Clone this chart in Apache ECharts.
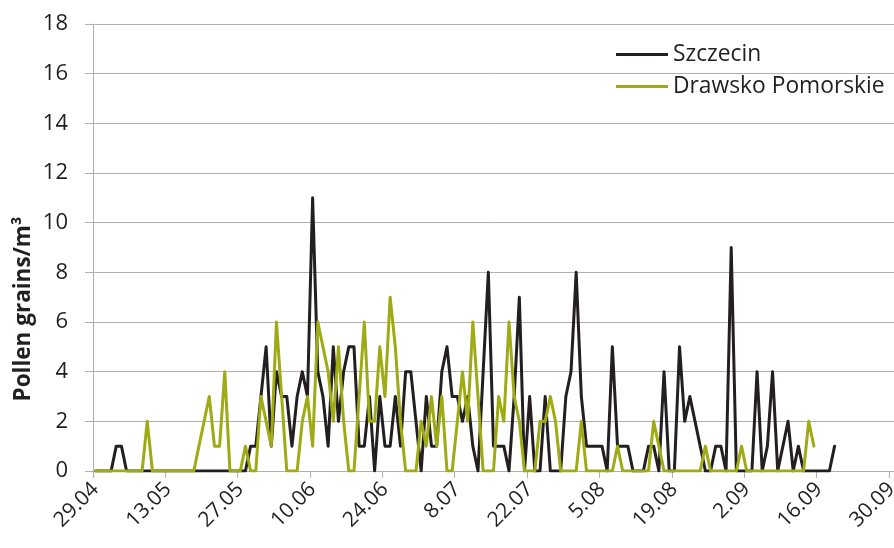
<!DOCTYPE html>
<html>
<head>
<meta charset="utf-8">
<script src="https://cdn.jsdelivr.net/npm/echarts@6/dist/echarts.min.js"></script>
<style>
html,body{margin:0;padding:0;background:#fff;}
#chart{width:894px;height:548px;}
</style>
</head>
<body>
<div id="chart"></div>
<script>
// Daily series, first value = 29.04
const seriesNames = ['Szczecin', 'Drawsko Pomorskie'];
const startDay = 29, startMonth = 4, dayCount = 155; // 29.04 .. 30.09
const szczecin = [
  0,0,0,0,1,1,0,0,0,0,
  0,0,0,0,0,0,0,0,0,0,
  0,0,0,0,0,0,0,0,0,0,
  1,1,3,5,1,4,3,3,1,3,
  4,3,11,4,3,1,5,2,4,5,
  5,1,1,3,0,3,1,1,3,1,
  4,4,2,0,3,1,1,4,5,3,
  3,2,3,1,0,4,8,1,1,1,
  0,3,7,0,3,0,0,3,0,0,
  0,3,4,8,3,1,1,1,1,0,
  5,1,1,1,0,0,0,1,1,0,
  4,0,0,5,2,3,2,1,0,0,
  1,1,0,9,0,0,0,0,4,0,
  1,4,0,1,2,0,1,0,0,0,
  0,0,0,1
];
const drawsko = [
  0,0,0,0,0,0,0,0,0,0,
  2,0,0,0,0,0,0,0,0,0,
  1,2,3,1,1,4,0,0,0,1,
  0,0,3,2,1,6,3,0,0,0,
  2,3,1,6,5,4,2,5,2,0,
  0,3,6,2,2,5,3,7,5,2,
  0,0,0,2,1,3,1,3,0,0,
  2,4,2,6,3,0,0,0,3,2,
  6,3,2,0,0,0,2,2,3,2,
  0,0,0,0,2,0,0,0,0,0,
  0,1,0,0,0,0,0,0,2,1,
  0,0,0,0,0,0,0,0,1,0,
  0,0,0,0,0,1,0,0,0,0,
  0,0,0,0,0,0,0,0,2,1
];
const yTicks = [0, 2, 4, 6, 8, 10, 12, 14, 16, 18];
const yTitle = 'Pollen grains/m³';

const categories = [];
for (let i = 0; i < dayCount; i++) {
  const d = new Date(2021, startMonth - 1, startDay + i);
  categories.push(d.getDate() + '.' + String(d.getMonth() + 1).padStart(2, '0'));
}

const FONT = '"Open Sans", "Noto Sans", sans-serif';
const TXT = '#231f20';
const GRID = '#b0b0b0';

const chart = echarts.init(document.getElementById('chart'), null, {renderer: 'canvas'});
chart.setOption({
  animation: false,
  backgroundColor: '#ffffff',
  textStyle: {fontFamily: FONT},
  grid: {left: 93, right: 0, top: 24, bottom: 77, containLabel: false, outerBoundsMode: 'none'},
  legend: {
    orient: 'vertical',
    left: 611,
    top: 38,
    itemGap: 9,
    itemWidth: 52,
    itemHeight: 3,
    icon: 'rect',
    textStyle: {fontFamily: FONT, fontSize: 22.8, color: TXT},
    data: seriesNames
  },
  graphic: [{
    type: 'text',
    x: 24,
    y: 309,
    rotation: Math.PI / 2,
    style: {
      text: yTitle,
      font: 'bold 22.5px ' + FONT,
      fill: TXT,
      align: 'center',
      verticalAlign: 'middle'
    }
  }],
  xAxis: {
    type: 'category',
    data: categories,
    boundaryGap: true,
    axisLine: {lineStyle: {color: GRID, width: 1}},
    axisTick: {show: true, interval: 13, length: 7, lineStyle: {color: GRID}},
    axisLabel: {
      interval: 13,
      rotate: 45,
      margin: 15,
      padding: [8, 0, 0, 0],
      fontSize: 21,
      fontFamily: FONT,
      color: TXT,
      showMaxLabel: true,
      hideOverlap: false
    },
    splitLine: {show: false}
  },
  yAxis: {
    type: 'value',
    min: yTicks[0],
    max: yTicks[yTicks.length - 1],
    interval: 2,
    axisLine: {show: true, lineStyle: {color: GRID, width: 1}},
    axisTick: {show: true, length: 8, lineStyle: {color: GRID}},
    axisLabel: {fontSize: 22, fontFamily: FONT, color: TXT, margin: 25},
    splitLine: {show: true, lineStyle: {color: GRID, width: 1}}
  },
  series: [
    {
      name: seriesNames[0],
      type: 'line',
      data: szczecin,
      showSymbol: false,
      symbol: 'none',
      color: '#231f20',
      lineStyle: {color: '#231f20', width: 3, join: 'round', cap: 'round'},
      z: 2
    },
    {
      name: seriesNames[1],
      type: 'line',
      data: drawsko,
      showSymbol: false,
      symbol: 'none',
      color: '#9eab14',
      lineStyle: {color: '#9eab14', width: 3, join: 'round', cap: 'round'},
      z: 3
    }
  ]
});
</script>
</body>
</html>
